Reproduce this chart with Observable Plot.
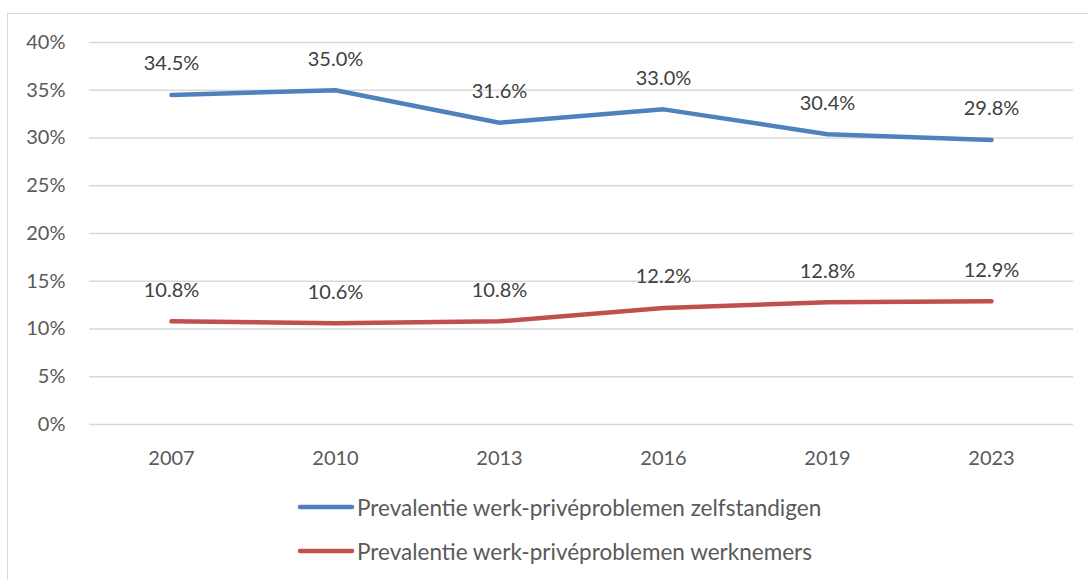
<!DOCTYPE html>
<html>
<head>
<meta charset="utf-8">
<script src="https://cdn.jsdelivr.net/npm/d3@7"></script>
<script src="https://cdn.jsdelivr.net/npm/@observablehq/plot@0.6"></script>
<style>
  html, body { margin: 0; padding: 0; background: #fff; overflow: hidden; }
  body { width: 1088px; height: 580px; position: relative; font-family: Lato, "Liberation Sans", sans-serif; }
  #frame { position: absolute; left: 7px; top: 13px; width: 1200px; height: 700px; border: 1.5px solid #d9d9d9; box-sizing: border-box; }
  #chart { position: absolute; left: 0; top: 0; }
  #legend { position: absolute; left: 297px; top: 485px; font-size: 22.5px; color: #595959; }
  .item { display: flex; align-items: center; height: 44px; }
  .item svg { margin-right: 2px; }
</style>
</head>
<body>
<div id="frame"></div>
<div id="chart"></div>
<div id="legend"></div>
<script>
const years = ["2007", "2010", "2013", "2016", "2019", "2023"];
const zelfstandigen = [34.5, 35.0, 31.6, 33.0, 30.4, 29.8];
const werknemers = [10.8, 10.6, 10.8, 12.2, 12.8, 12.9];
const yTicks = [0, 5, 10, 15, 20, 25, 30, 35, 40];
const seriesNames = [
  "Prevalentie werk-privéproblemen zelfstandigen",
  "Prevalentie werk-privéproblemen werknemers"
];
const seriesColors = ["#4f81bd", "#c0504d"];

const data = [
  ...years.map((y, i) => ({year: y, value: zelfstandigen[i], series: seriesNames[0]})),
  ...years.map((y, i) => ({year: y, value: werknemers[i], series: seriesNames[1]}))
];

const chart = Plot.plot({
  width: 1088,
  height: 470,
  marginLeft: 89,
  marginRight: 15,
  marginTop: 42,
  marginBottom: 46,
  style: {fontSize: "20px", fontFamily: "Lato, 'Liberation Sans', sans-serif", color: "#595959", background: "transparent", overflow: "visible"},
  x: {type: "point", domain: years, padding: 0.5, label: null},
  y: {domain: [0, 40], label: null},
  color: {domain: seriesNames, range: seriesColors},
  marks: [
    Plot.gridY(yTicks, {stroke: "#d9d9d9", strokeOpacity: 1, strokeWidth: 1.5}),
    Plot.axisY({ticks: yTicks, tickSize: 0, tickPadding: 24, tickFormat: d => d + "%", fill: "#595959"}),
    Plot.axisX({tickSize: 0, tickPadding: 26, fill: "#595959"}),
    Plot.line(data, {x: "year", y: "value", z: "series", stroke: "series", strokeWidth: 4.5, strokeLinecap: "round", strokeLinejoin: "round"}),
    Plot.text(data, {x: "year", y: "value", text: d => d.value.toFixed(1) + "%", dy: -31, fill: "#404040", fontSize: 20})
  ]
});
document.getElementById("chart").appendChild(chart);

const legend = document.getElementById("legend");
seriesNames.forEach((name, i) => {
  const item = document.createElement("div");
  item.className = "item";
  item.innerHTML = `<svg width="58" height="10"><line x1="3" y1="5" x2="55" y2="5" stroke="${seriesColors[i]}" stroke-width="4.5" stroke-linecap="round"/></svg><span>${name}</span>`;
  legend.appendChild(item);
});
</script>
</body>
</html>
